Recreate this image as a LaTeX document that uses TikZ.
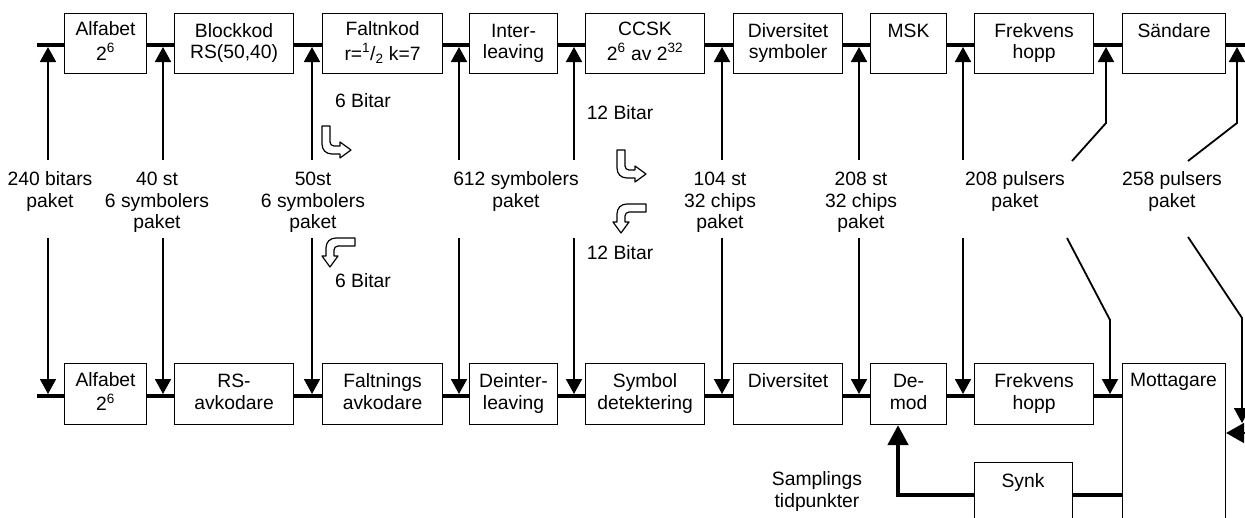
\documentclass[tikz,border=0pt]{standalone}
\usepackage{fontspec}
\setmainfont{Liberation Sans}
\usetikzlibrary{arrows.meta,calc}
\newcommand{\twoln}[2]{\strut #1\\\strut #2}
\begin{document}
\begin{tikzpicture}[x=1pt,y=-1pt,
  font=\fontsize{19.3}{21.7}\selectfont,
  blk/.style={draw, line width=1.1pt, inner sep=0pt, align=center, anchor=north west, minimum height=60pt},
  bus/.style={line width=4.5pt},
  conn/.style={line width=1.8pt},
  trih/.style={-{Triangle[width=16pt,length=15pt]}},
  lbl/.style={inner sep=0pt, align=center},
  hollow/.style={draw, fill=white, line width=1.2pt, line join=round}]
\useasboundingbox (0,0) rectangle (1245,517);
\clip (0,0) rectangle (1245,517);

% ---------- top row ----------
\node[blk, minimum width=82pt]  (alfT)  at (64,13)   {\twoln{Alfabet}{2\textsuperscript{6}}};
\node[blk, minimum width=119pt] (blkT)  at (174,13)  {\twoln{Blockkod}{RS(50,40)}};
\node[blk, minimum width=120pt] (falT)  at (322,13)  {\twoln{Faltnkod}{r=\textsuperscript{1}/\textsubscript{2} k=7}};
\node[blk, minimum width=88pt]  (intT)  at (469,13)  {\twoln{Inter-}{leaving}};
\node[blk, minimum width=119pt] (ccskT) at (585,13)  {\twoln{CCSK}{2\textsuperscript{6} av 2\textsuperscript{32}}};
\node[blk, minimum width=109pt] (divT)  at (733,13)  {\twoln{Diversitet}{symboler}};
\node[blk, minimum width=76pt]  (mskT)  at (870,13)  {\twoln{MSK}{}};
\node[blk, minimum width=119pt] (freT)  at (974,13)  {\twoln{Frekvens}{hopp}};
\node[blk, minimum width=103pt] (sndT)  at (1122,13) {\twoln{Sändare}{}};

% ---------- bottom row ----------
\node[blk, minimum width=82pt, minimum height=61pt]  (alfB) at (64,363)  {\twoln{Alfabet}{2\textsuperscript{6}}};
\node[blk, minimum width=119pt, minimum height=61pt] (rsB)  at (174,363) {\twoln{RS-}{avkodare}};
\node[blk, minimum width=120pt, minimum height=61pt] (falB) at (322,363) {\twoln{Faltnings}{avkodare}};
\node[blk, minimum width=88pt, minimum height=61pt]  (deiB) at (469,363) {\twoln{Deinter-}{leaving}};
\node[blk, minimum width=119pt, minimum height=61pt] (symB) at (585,363) {\twoln{Symbol}{detektering}};
\node[blk, minimum width=109pt, minimum height=61pt] (divB) at (733,363) {\twoln{Diversitet}{}};
\node[blk, minimum width=76pt, minimum height=61pt]  (demB) at (870,363) {\twoln{De-}{mod}};
\node[blk, minimum width=119pt, minimum height=61pt] (freB) at (974,363) {\twoln{Frekvens}{hopp}};
\node[blk, minimum width=103pt, minimum height=200pt] (mottB) at (1122,363) {};
\node[lbl, anchor=north] (mottT) at (1173.5,371.5) {\strut Mottagare};
\node[blk, minimum width=98pt, minimum height=120pt] (synk) at (974,462) {};
\node[lbl, anchor=north] (synkT) at (1023,471.8) {\strut Synk};

% ---------- buses ----------
\coordinate (tb0) at (37,45);
\coordinate (tbE) at (1260,45);
\coordinate (bb0) at (37,396);
\draw[bus] (tb0) -- (alfT.west |- tb0);
\foreach \a/\b in {alfT/blkT, blkT/falT, falT/intT, intT/ccskT, ccskT/divT, divT/mskT, mskT/freT, freT/sndT}
  \draw[bus] (\a.east |- tb0) -- (\b.west |- tb0);
\draw[bus] (sndT.east |- tb0) -- (tbE);
\draw[bus] (bb0) -- (alfB.west |- bb0);
\foreach \a/\b in {alfB/rsB, rsB/falB, falB/deiB, deiB/symB, symB/divB, divB/demB, demB/freB, freB/mottB}
  \draw[bus] (\a.east |- bb0) -- (\b.west |- bb0);

% ---------- vertical connectors ----------
\foreach \i/\x in {1/48,2/163,3/312,4/459,5/574,6/722,7/859,8/963} {
  \coordinate (vu\i) at (\x,160);
  \coordinate (vd\i) at (\x,238);
  \coordinate (vt\i) at (\x,47);
  \coordinate (vb\i) at (\x,394);
  \draw[conn,trih] (vu\i) -- (vt\i);
  \draw[conn,trih] (vd\i) -- (vb\i);
}
% 208 pulsers
\coordinate (pa1) at (1072,161); \coordinate (pa2) at (1106,123); \coordinate (pa3) at (1106,47);
\draw[conn,trih] (pa1) -- (pa2) -- (pa3);
\coordinate (pb1) at (1067,238); \coordinate (pb2) at (1110,320); \coordinate (pb3) at (1110,394);
\draw[conn,trih] (pb1) -- (pb2) -- (pb3);
% 258 pulsers
\coordinate (qa1) at (1188,161); \coordinate (qa2) at (1237,123); \coordinate (qa3) at (1237,47);
\draw[conn,trih] (qa1) -- (qa2) -- (qa3);
\coordinate (qb1) at (1188,237); \coordinate (qb2) at (1242,318); \coordinate (qb3) at (1242,423);
\draw[conn,trih] (qb1) -- (qb2) -- (qb3);
\coordinate (qr) at (1275,433);
\draw[conn,-{Triangle[width=20pt,length=18pt]}] (qr) -- (mottB.east |- qr);

% ---------- synk ----------
\coordinate (sk) at (898,495);
\draw[line width=4.5pt] (mottB.west |- sk) -- (synk.east |- sk);
\draw[line width=4.5pt, -{Triangle[width=20pt,length=20pt]}] (synk.west |- sk) -- (sk) -- (sk |- demB.south);

% ---------- labels ----------
\node[lbl, anchor=north] (l1) at (50,170)   {\strut 240 bitars\\\strut paket};
\node[lbl, anchor=north] (l2) at (157,170)  {\strut 40 st\\\strut 6 symbolers\\\strut paket};
\node[lbl, anchor=north] (l3) at (313,170)  {\strut 50st\\\strut 6 symbolers\\\strut paket};
\node[lbl, anchor=north] (l4) at (516,170)  {\strut 612 symbolers\\\strut paket};
\node[lbl, anchor=north] (l5) at (720,170)  {\strut 104 st\\\strut 32 chips\\\strut paket};
\node[lbl, anchor=north] (l6) at (861,170)  {\strut 208 st\\\strut 32 chips\\\strut paket};
\node[lbl, anchor=north] (l7) at (1015,170) {\strut 208 pulsers\\\strut paket};
\node[lbl, anchor=north] (l8) at (1172,170) {\strut 258 pulsers\\\strut paket};
\node[lbl, anchor=base] (b1) at (363,107) {6 Bitar};
\node[lbl, anchor=base] (b2) at (363,287) {6 Bitar};
\node[lbl, anchor=base] (b3) at (620,119) {12 Bitar};
\node[lbl, anchor=base] (b4) at (620,259) {12 Bitar};
\node[lbl, anchor=north] (smp) at (817,470) {\strut Samplings\\\strut tidpunkter};

% ---------- hollow bent arrows ----------
\begin{scope}[shift={(322,126)}]
  \draw[hollow] (0,0) -- (0,18) .. controls (0,24) and (4,28) .. (10,28) -- (18,28) -- (18,32) -- (29,24) -- (18,16) -- (18,20) -- (12,20) .. controls (9.8,20) and (8,18.2) .. (8,16) -- (8,0) -- cycle;
\end{scope}
\begin{scope}[shift={(617,150)}]
  \draw[hollow] (0,0) -- (0,18) .. controls (0,24) and (4,28) .. (10,28) -- (18,28) -- (18,32) -- (29,24) -- (18,16) -- (18,20) -- (12,20) .. controls (9.8,20) and (8,18.2) .. (8,16) -- (8,0) -- cycle;
\end{scope}
\begin{scope}[shift={(322,238)}]
  \draw[hollow] (33,0) -- (14,0) .. controls (8,0) and (4,4) .. (4,10) -- (4,18) -- (0,18) -- (8,29) -- (16,18) -- (12,18) -- (12,12) .. controls (12,9.8) and (13.8,8) .. (16,8) -- (33,8) -- cycle;
\end{scope}
\begin{scope}[shift={(613,204)}]
  \draw[hollow] (33,0) -- (14,0) .. controls (8,0) and (4,4) .. (4,10) -- (4,18) -- (0,18) -- (8,29) -- (16,18) -- (12,18) -- (12,12) .. controls (12,9.8) and (13.8,8) .. (16,8) -- (33,8) -- cycle;
\end{scope}
\end{tikzpicture}
\end{document}
